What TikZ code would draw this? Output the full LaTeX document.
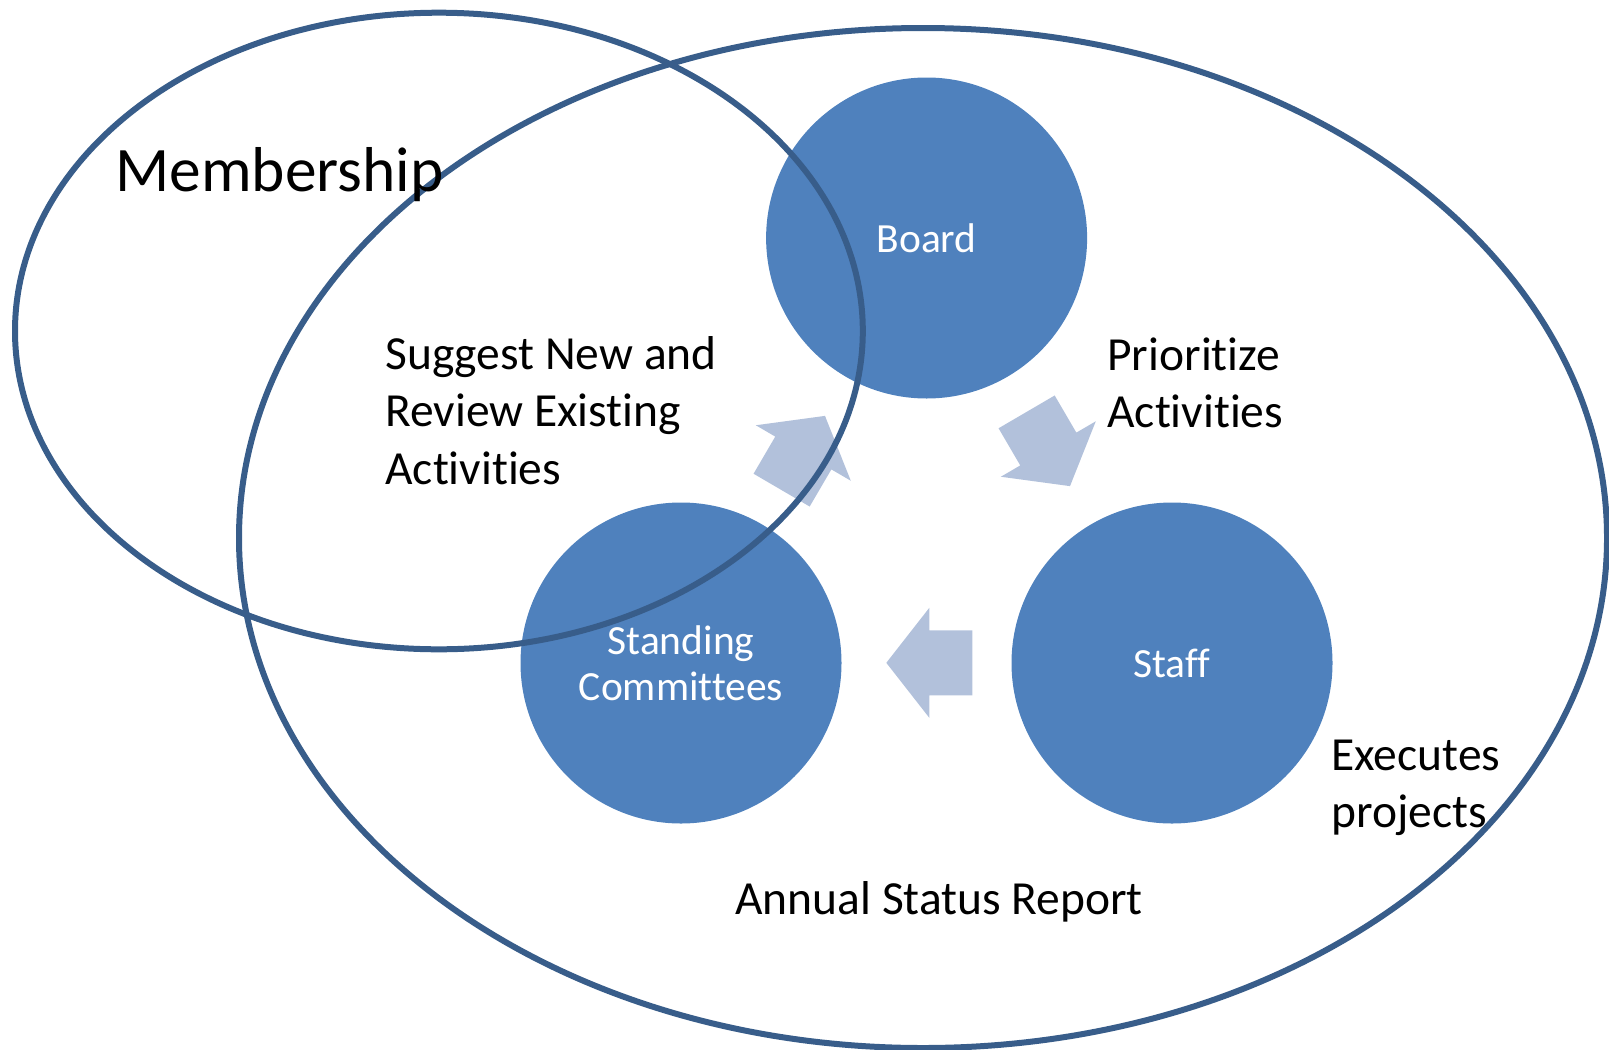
\documentclass[tikz,border=0pt]{standalone}
\usepackage{fontspec}
\setmainfont{Carlito}[Ligatures={NoCommon,NoContextual,NoRare}]
\definecolor{ringc}{HTML}{385D8A}
\definecolor{discc}{HTML}{4F81BD}
\definecolor{arrc}{HTML}{B2C1DB}
\begin{document}
\begin{tikzpicture}[x=0.5pt,y=-0.5pt,
  ring/.style={draw=ringc, line width=3pt},
  disc/.style={circle, fill=discc, minimum size=160.5pt, inner sep=0pt, text=white,
    font=\fontsize{20.75pt}{23.25pt}\selectfont, align=center},
  txt/.style={inner sep=0pt, align=left, font=\fontsize{23.75pt}{28.75pt}\selectfont},
  cyclearrow/.style={fill=arrc}]
\useasboundingbox (0,0) rectangle (1609,1049);
% outer ellipse
\draw[ring] (923,538) ellipse [x radius=342pt, y radius=255pt];
% discs
\node[disc] (board) at (926.6,238) {Board};
\node[disc] (staff) at (1172,663) {Staff};
\node[disc] (committees) at (681,663) {Standing\\Committees};
% cycle arrows
\begin{scope}[shift={(803.3,453)}, rotate=59.7]
  \fill[cyclearrow] (-43,-32.5) -- (0,-32.5) -- (0,-55) -- (43,0) -- (0,55) -- (0,32.5) -- (-43,32.5) -- cycle;
\end{scope}
\begin{scope}[shift={(1048.3,449)}, rotate=-59.7]
  \fill[cyclearrow] (-43,-32.5) -- (0,-32.5) -- (0,-55) -- (43,0) -- (0,55) -- (0,32.5) -- (-43,32.5) -- cycle;
\end{scope}
\begin{scope}[shift={(929.3,662.8)}, rotate=180]
  \fill[cyclearrow] (-43,-32.5) -- (0,-32.5) -- (0,-55) -- (43,0) -- (0,55) -- (0,32.5) -- (-43,32.5) -- cycle;
\end{scope}
% membership ellipse
\draw[ring] (438.9,331) ellipse [x radius=211.95pt, y radius=159.15pt];
% labels
\node[inner sep=0pt, anchor=base west, font=\fontsize{31.7pt}{37pt}\selectfont] (membership) at (115,191.7) {Membership};
\node[txt, anchor=base west] (suggest) at (385,484) {Suggest New and\\Review Existing\\Activities};
\node[txt, anchor=base west] (prioritize) at (1107,427.5) {Prioritize\\Activities};
\node[txt, anchor=base west] (executes) at (1331,827.5) {Executes\\projects};
\node[txt, anchor=base west] (annual) at (735,914) {Annual Status Report};
\end{tikzpicture}
\end{document}
